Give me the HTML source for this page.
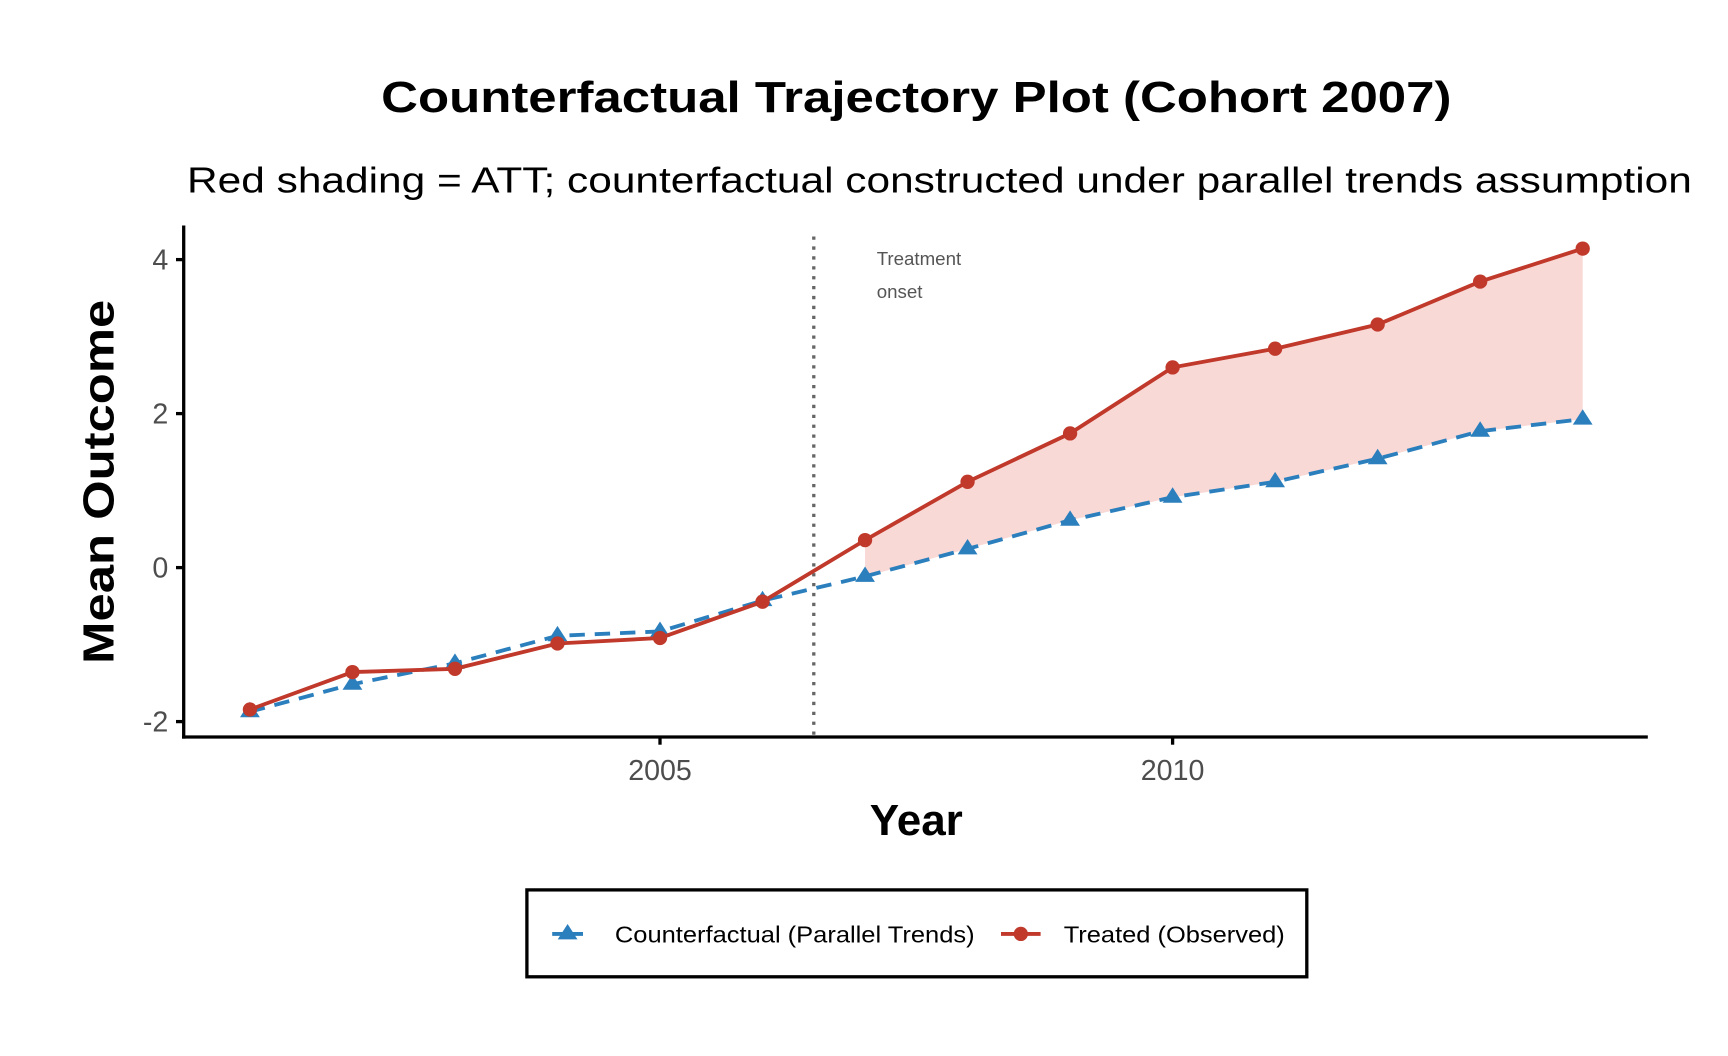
<!DOCTYPE html>
<html><head><meta charset="utf-8"><style>
html,body{margin:0;padding:0;background:#fff;}
svg{display:block;}
text{font-family:"Liberation Sans",Arial,sans-serif;}
</style></head><body>
<svg width="1728" height="1056" viewBox="0 0 1570.9 960" preserveAspectRatio="none" xmlns="http://www.w3.org/2000/svg">
<rect width="1570.9" height="960" fill="#fff"/>
<text x="833" y="102" text-anchor="middle" font-size="40" font-weight="bold" textLength="973" lengthAdjust="spacingAndGlyphs">Counterfactual Trajectory Plot (Cohort 2007)</text>
<text x="854" y="175" text-anchor="middle" font-size="33" textLength="1368" lengthAdjust="spacingAndGlyphs">Red shading = ATT; counterfactual constructed under parallel trends assumption</text>
<polygon fill="#f9d9d6" points="786.4,491 879.6,438 972.8,394 1066,334 1159.2,317 1252.4,295 1345.6,256 1438.8,226 1438.8,381 1345.6,392 1252.4,417 1159.2,438 1066,452 972.8,473 879.6,499 786.4,524"/>
<line x1="739.8" y1="215" x2="739.8" y2="670" stroke="#666" stroke-width="3" stroke-dasharray="3,6"/>
<text x="797" y="241" font-size="17" fill="#555">Treatment</text>
<text x="797" y="271" font-size="17" fill="#555">onset</text>
<polyline fill="none" stroke="#2b7fbd" stroke-width="3.5" stroke-dasharray="14,9" points="227.2,647 320.4,622 413.6,603 506.8,578 600,574 693.2,546 786.4,524 879.6,499 972.8,473 1066,452 1159.2,438 1252.4,417 1345.6,392 1438.8,381"/>
<g fill="#2b7fbd">
<path d="M227.2,638 l9,14 h-18z"/><path d="M320.4,613 l9,14 h-18z"/><path d="M413.6,594 l9,14 h-18z"/><path d="M506.8,569 l9,14 h-18z"/><path d="M600,565 l9,14 h-18z"/><path d="M693.2,537 l9,14 h-18z"/><path d="M786.4,515 l9,14 h-18z"/><path d="M879.6,490 l9,14 h-18z"/><path d="M972.8,464 l9,14 h-18z"/><path d="M1066,443 l9,14 h-18z"/><path d="M1159.2,429 l9,14 h-18z"/><path d="M1252.4,408 l9,14 h-18z"/><path d="M1345.6,383 l9,14 h-18z"/><path d="M1438.8,372 l9,14 h-18z"/>
</g>
<polyline fill="none" stroke="#c0392b" stroke-width="3.5" points="227.2,645 320.4,611 413.6,608 506.8,585 600,580 693.2,547 786.4,491 879.6,438 972.8,394 1066,334 1159.2,317 1252.4,295 1345.6,256 1438.8,226"/>
<g fill="#c0392b">
<circle cx="227.2" cy="645" r="6.5"/><circle cx="320.4" cy="611" r="6.5"/><circle cx="413.6" cy="608" r="6.5"/><circle cx="506.8" cy="585" r="6.5"/><circle cx="600" cy="580" r="6.5"/><circle cx="693.2" cy="547" r="6.5"/><circle cx="786.4" cy="491" r="6.5"/><circle cx="879.6" cy="438" r="6.5"/><circle cx="972.8" cy="394" r="6.5"/><circle cx="1066" cy="334" r="6.5"/><circle cx="1159.2" cy="317" r="6.5"/><circle cx="1252.4" cy="295" r="6.5"/><circle cx="1345.6" cy="256" r="6.5"/><circle cx="1438.8" cy="226" r="6.5"/>
</g>
<line x1="167" y1="205" x2="167" y2="671.5" stroke="#000" stroke-width="3"/>
<line x1="165.5" y1="670" x2="1498" y2="670" stroke="#000" stroke-width="3"/>
<g stroke="#000" stroke-width="3">
<line x1="160" y1="236" x2="167" y2="236"/><line x1="160" y1="376" x2="167" y2="376"/><line x1="160" y1="516" x2="167" y2="516"/><line x1="160" y1="656" x2="167" y2="656"/>
<line x1="600" y1="670" x2="600" y2="677"/><line x1="1066" y1="670" x2="1066" y2="677"/>
</g>
<g font-size="26" fill="#4d4d4d" text-anchor="end">
<text x="153" y="245">4</text><text x="153" y="385">2</text><text x="153" y="525">0</text><text x="153" y="665">-2</text>
</g>
<g font-size="26" fill="#4d4d4d" text-anchor="middle">
<text x="600" y="709">2005</text><text x="1066" y="709">2010</text>
</g>
<text x="833" y="759" text-anchor="middle" font-size="40" font-weight="bold">Year</text>
<text transform="translate(103,438) rotate(-90)" text-anchor="middle" font-size="40" font-weight="bold" textLength="331" lengthAdjust="spacingAndGlyphs">Mean Outcome</text>
<rect x="479" y="809" width="709" height="79" fill="#fff" stroke="#000" stroke-width="3"/>
<line x1="502" y1="849" x2="530" y2="849" stroke="#2b7fbd" stroke-width="3.5" stroke-dasharray="12,6"/>
<path d="M516,840 l9,14 h-18z" fill="#2b7fbd"/>
<text x="559" y="857" font-size="21" textLength="327" lengthAdjust="spacingAndGlyphs">Counterfactual (Parallel Trends)</text>
<line x1="910" y1="849" x2="946" y2="849" stroke="#c0392b" stroke-width="3.5"/>
<circle cx="928" cy="849" r="6.5" fill="#c0392b"/>
<text x="967" y="857" font-size="21" textLength="201" lengthAdjust="spacingAndGlyphs">Treated (Observed)</text>
</svg>
</body></html>
